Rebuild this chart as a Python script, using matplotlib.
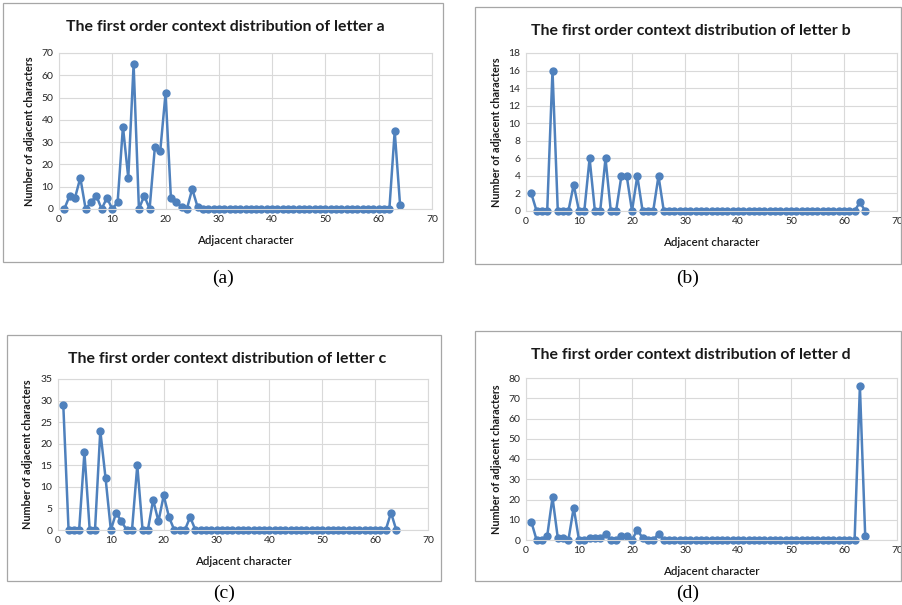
import numpy as np
import matplotlib.pyplot as plt
from matplotlib.patches import Rectangle

plt.rcParams['font.family'] = ['Lato', 'DejaVu Sans']

W, H = 902, 605

x = np.arange(1, 65)

# 64 positions each; 27..62 are all zero
zeros = [0] * 36
letter_a = [0, 6, 5, 14, 0, 3, 6, 0, 5, 0, 3, 37, 14, 65, 0, 6, 0, 28, 26, 52,
            5, 3, 1, 0, 9, 1] + zeros + [35, 2]
letter_b = [2, 0, 0, 0, 16, 0, 0, 0, 3, 0, 0, 6, 0, 0, 6, 0, 0, 4, 4, 0,
            4, 0, 0, 0, 4, 0] + zeros + [1, 0]
letter_c = [29, 0, 0, 0, 18, 0, 0, 23, 12, 0, 4, 2, 0, 0, 15, 0, 0, 7, 2, 8,
            3, 0, 0, 0, 3, 0] + zeros + [4, 0]
letter_d = [9, 0, 0, 2, 21, 1, 1, 0, 16, 0, 0, 1, 1, 1, 3, 0, 0, 2, 2, 0,
            5, 1, 0, 0, 3, 0] + zeros + [76, 2]

panels = [
    # letter, data, ymax, ystep, box(px), axes(px), caption y
    ('a', letter_a, 70, 10, (3, 3, 443, 262), (59, 53, 432, 209), 278),
    ('b', letter_b, 18, 2, (475, 7, 901, 264), (526, 53, 897, 211), 278),
    ('c', letter_c, 35, 5, (7, 335, 441, 581), (58, 379, 428, 530), 593),
    ('d', letter_d, 80, 10, (475, 331, 901, 581), (526, 378, 897, 540), 593),
]

fig = plt.figure(figsize=(W / 100, H / 100), dpi=100)

for letter, vals, ymax, ystep, box, ax_px, cap_y in panels:
    bx0, by0, bx1, by1 = box
    fig.patches.append(Rectangle((bx0 / W, 1 - by1 / H), (bx1 - bx0) / W, (by1 - by0) / H,
                                 transform=fig.transFigure, fill=False,
                                 edgecolor='#a6a6a6', linewidth=0.9))
    x0, y0, x1, y1 = ax_px
    ax = fig.add_axes([x0 / W, 1 - y1 / H, (x1 - x0) / W, (y1 - y0) / H])
    ax.plot(x, vals, color='#4f81bd', linewidth=1.8, marker='o', markersize=5, clip_on=False)
    ax.set_xlim(0, 70)
    ax.set_ylim(0, ymax)
    ax.set_xticks(range(0, 71, 10))
    ax.set_yticks(range(0, ymax + 1, ystep))
    ax.grid(True, color='#d9d9d9', linewidth=0.8)
    ax.set_axisbelow(True)
    for s in ax.spines.values():
        s.set_color('#d9d9d9')
        s.set_linewidth(0.8)
    ax.tick_params(length=0, labelsize=7.5, colors='#262626', pad=4)
    ax.set_xlabel('Adjacent character', fontsize=8.3, fontweight='semibold', labelpad=8,
                  color='#1a1a1a')
    ax.set_ylabel('Number of adjacent characters', fontsize=7.8, fontweight='bold', labelpad=5,
                  color='#1a1a1a')

    cx = (bx0 + bx1) / 2 / W
    fig.text(cx + 0.003, 1 - (by0 + 24) / H, f'The first order context distribution of letter {letter}',
             ha='center', va='center', fontsize=11.4, fontweight='bold', color='#1a1a1a')
    fig.text((bx0 + bx1) / 2 / W, 1 - cap_y / H, f'({letter})',
             ha='center', va='center', fontsize=14, family='Liberation Serif')

fig.savefig('out.png', dpi=100, facecolor='white')
